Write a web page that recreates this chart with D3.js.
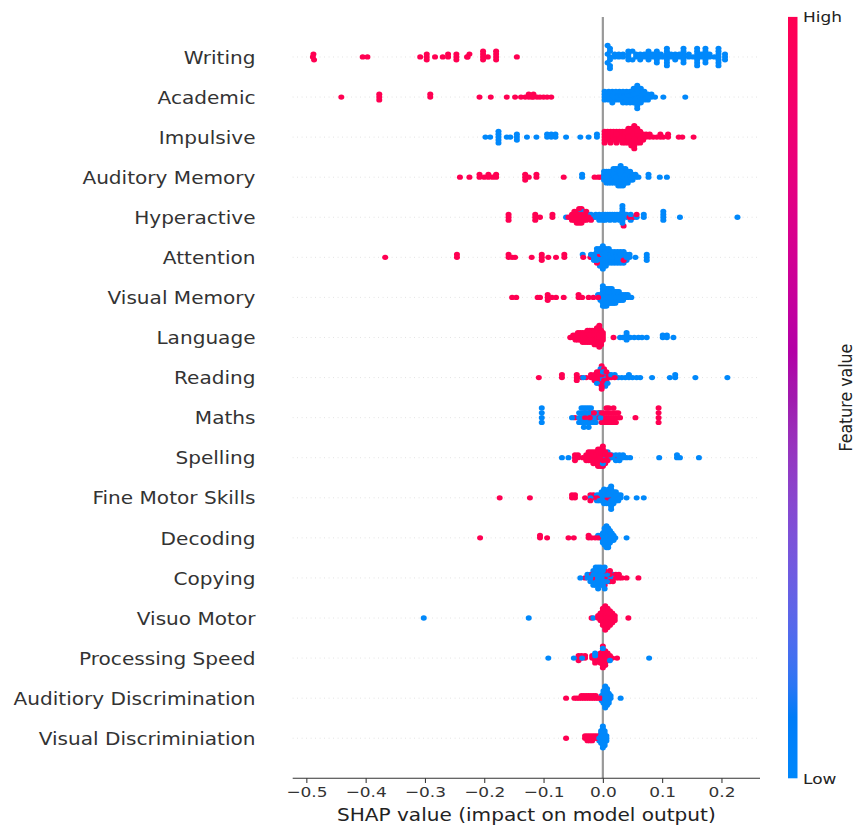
<!DOCTYPE html>
<html>
<head>
<meta charset="utf-8">
<script src="https://cdn.jsdelivr.net/npm/d3@7"></script>
<style>
  body { margin: 0; background: #fff; }
  text { font-family: "DejaVu Sans", sans-serif; }
</style>
</head>
<body>
<svg id="chart" width="863" height="827"></svg>
<script>
// Features, top (most important) to bottom
const features = [
  "Writing", "Academic", "Impulsive", "Auditory Memory", "Hyperactive", "Attention",
  "Visual Memory", "Language", "Reading", "Maths", "Spelling", "Fine Motor Skills",
  "Decoding", "Copying", "Visuo Motor", "Processing Speed", "Auditiory Discrimination",
  "Visual Discriminiation"
];

// SHAP values of samples with a high feature value (one list per feature)
const highShap = [
  [-0.489,-0.488,-0.487,-0.405,-0.397,-0.308,-0.297,-0.297,-0.297,-0.283,-0.270,-0.261,-0.261,-0.247,-0.247,-0.247,-0.229,-0.228,-0.225,-0.202,-0.202,-0.202,-0.202,-0.194,-0.180,-0.180,-0.180,-0.180,-0.145],
  [-0.441,-0.377,-0.377,-0.377,-0.291,-0.291,-0.208,-0.189,-0.162,-0.148,-0.138,-0.131,-0.125,-0.125,-0.120,-0.117,-0.117,-0.111,-0.106,-0.100,-0.094,-0.087],
  [0.003,0.003,0.003,0.003,0.003,0.008,0.008,0.008,0.008,0.013,0.013,0.013,0.013,0.013,0.018,0.018,0.018,0.018,0.023,0.023,0.023,0.023,0.023,0.028,0.028,0.028,0.028,0.033,0.033,0.033,0.033,0.033,0.038,0.038,0.038,0.038,0.038,0.043,0.043,0.043,0.043,0.043,0.043,0.048,0.048,0.048,0.048,0.048,0.048,0.048,0.053,0.053,0.053,0.053,0.053,0.053,0.053,0.053,0.053,0.058,0.058,0.058,0.058,0.058,0.058,0.063,0.063,0.063,0.063,0.063,0.068,0.068,0.068,0.073,0.073,0.079,0.079,0.085,0.091,0.097,0.097,0.102,0.110,0.110,0.128,0.134,0.153],
  [-0.241,-0.225,-0.208,-0.208,-0.200,-0.193,-0.193,-0.186,-0.180,-0.180,-0.131,-0.131,-0.131,-0.125,-0.112,-0.112,-0.066,-0.014,-0.008,-0.004],
  [-0.159,-0.159,-0.159,-0.114,-0.114,-0.114,-0.106,-0.085,-0.085,-0.058,-0.052,-0.052,-0.052,-0.048,-0.048,-0.048,-0.048,-0.044,-0.044,-0.044,-0.044,-0.044,-0.040,-0.040,-0.040,-0.040,-0.040,-0.040,-0.036,-0.036,-0.036,-0.036,-0.036,-0.032,-0.032,-0.032,-0.032,-0.028,-0.028,-0.028,-0.024,-0.024,-0.020,-0.020,-0.016,0.035,0.045,0.052,0.057],
  [-0.367,-0.246,-0.246,-0.159,-0.159,-0.153,-0.148,-0.120,-0.103,-0.103,-0.103,-0.092,-0.079,-0.065,-0.065,-0.033,-0.021,-0.010,-0.005,0.035],
  [-0.153,-0.146,-0.110,-0.106,-0.093,-0.093,-0.093,-0.086,-0.079,-0.066,-0.041,-0.041,-0.035,-0.024,-0.016,-0.008],
  [-0.055,-0.050,-0.050,-0.046,-0.046,-0.046,-0.042,-0.042,-0.042,-0.042,-0.038,-0.038,-0.038,-0.038,-0.034,-0.034,-0.034,-0.034,-0.034,-0.030,-0.030,-0.030,-0.030,-0.030,-0.026,-0.026,-0.026,-0.026,-0.026,-0.026,-0.022,-0.022,-0.022,-0.022,-0.022,-0.022,-0.018,-0.018,-0.018,-0.018,-0.018,-0.018,-0.014,-0.014,-0.014,-0.014,-0.014,-0.014,-0.014,-0.010,-0.010,-0.010,-0.010,-0.010,-0.010,-0.010,-0.010,-0.006,-0.006,-0.006,-0.006,-0.006,-0.006,-0.006,-0.006,-0.006,-0.006,-0.003,-0.003,-0.003,-0.003,-0.003,-0.003,-0.003,0.000,0.000,0.000,0.000,0.018],
  [-0.108,-0.069,-0.069,-0.044,-0.044,-0.044,-0.036,-0.028,-0.020,-0.020,-0.014,-0.014,-0.014,-0.010,-0.010,-0.010,-0.010,-0.006,-0.006,-0.006,-0.006,-0.006,-0.002,-0.002,-0.002,-0.002,-0.002,-0.002,0.002,0.002,0.002,0.002,0.002,0.006,0.006,0.006,0.010,0.010,0.014,0.020],
  [-0.047,-0.030,-0.030,-0.022,-0.022,-0.015,-0.015,-0.006,-0.006,-0.002,-0.002,-0.002,0.002,0.002,0.002,0.006,0.006,0.006,0.006,0.010,0.010,0.010,0.010,0.014,0.014,0.014,0.018,0.018,0.018,0.018,0.022,0.022,0.022,0.026,0.026,0.029,0.055,0.094,0.094,0.094,0.094],
  [-0.047,-0.047,-0.047,-0.042,-0.042,-0.034,-0.028,-0.028,-0.028,-0.024,-0.024,-0.024,-0.024,-0.020,-0.020,-0.020,-0.020,-0.016,-0.016,-0.016,-0.016,-0.016,-0.012,-0.012,-0.012,-0.012,-0.012,-0.008,-0.008,-0.008,-0.008,-0.008,-0.008,-0.004,-0.004,-0.004,-0.004,-0.004,-0.004,-0.004,0.000,0.000,0.000,0.000,0.000,0.000,0.004,0.004,0.004,0.004,0.004,0.008,0.008,0.008,0.012,0.012,0.026],
  [-0.174,-0.123,-0.052,-0.052,-0.047,-0.047,-0.030,-0.021,-0.021,-0.016,-0.016,-0.010,0.008],
  [-0.207,-0.106,-0.106,-0.094,-0.058,-0.049,-0.024,-0.024,-0.019,-0.013,-0.008],
  [-0.030,-0.018,-0.018,-0.010,-0.010,0.003,0.003,0.003,0.008,0.008,0.008,0.012,0.012,0.012,0.012,0.017,0.017,0.017,0.022,0.022,0.027,0.027,0.032,0.040,0.060],
  [-0.019,-0.008,-0.008,-0.004,-0.004,-0.004,-0.004,0.000,0.000,0.000,0.000,0.000,0.000,0.000,0.000,0.004,0.004,0.004,0.004,0.004,0.004,0.004,0.004,0.004,0.004,0.008,0.008,0.008,0.008,0.008,0.008,0.008,0.008,0.008,0.012,0.012,0.012,0.012,0.012,0.012,0.012,0.016,0.016,0.016,0.016,0.016,0.020,0.020,0.020,0.043],
  [-0.041,-0.041,-0.041,-0.036,-0.036,-0.030,-0.030,-0.018,-0.018,-0.013,-0.013,-0.013,-0.008,-0.008,-0.008,-0.004,-0.004,-0.004,-0.004,-0.004,0.000,0.000,0.000,0.000,0.000,0.000,0.000,0.000,0.000,0.004,0.004,0.004,0.004,0.004,0.004,0.004,0.008,0.008,0.008,0.008,0.012,0.012,0.016,0.024],
  [-0.062,-0.048,-0.044,-0.040,-0.036,-0.036,-0.032,-0.032,-0.028,-0.028,-0.024,-0.024,-0.020,-0.020,-0.016,-0.016,-0.012,-0.012,-0.008,-0.004],
  [-0.062,-0.030,-0.030,-0.026,-0.026,-0.026,-0.022,-0.022,-0.022,-0.018,-0.018,-0.018,-0.014,-0.014,-0.010,-0.010]
];

// SHAP values of samples with a low feature value (one list per feature)
const lowShap = [
  [0.008,0.008,0.008,0.012,0.012,0.012,0.012,0.012,0.012,0.020,0.020,0.027,0.027,0.034,0.034,0.043,0.043,0.043,0.043,0.050,0.050,0.056,0.056,0.063,0.063,0.063,0.070,0.070,0.077,0.077,0.077,0.077,0.084,0.084,0.091,0.091,0.091,0.091,0.091,0.098,0.098,0.103,0.108,0.108,0.108,0.108,0.108,0.108,0.108,0.115,0.115,0.122,0.122,0.122,0.129,0.129,0.136,0.136,0.136,0.136,0.136,0.136,0.145,0.145,0.152,0.159,0.159,0.159,0.159,0.159,0.159,0.159,0.166,0.166,0.173,0.173,0.173,0.173,0.173,0.173,0.180,0.180,0.188,0.195,0.195,0.195,0.195,0.195,0.195,0.195,0.206,0.206,0.206],
  [0.003,0.003,0.003,0.003,0.010,0.010,0.010,0.010,0.016,0.016,0.016,0.016,0.016,0.022,0.022,0.022,0.022,0.028,0.028,0.028,0.028,0.034,0.034,0.034,0.034,0.034,0.040,0.040,0.040,0.040,0.040,0.046,0.046,0.046,0.046,0.046,0.052,0.052,0.052,0.052,0.052,0.052,0.058,0.058,0.058,0.058,0.058,0.058,0.058,0.058,0.058,0.064,0.064,0.064,0.064,0.064,0.064,0.070,0.070,0.070,0.070,0.076,0.076,0.076,0.082,0.082,0.088,0.102,0.139],
  [-0.198,-0.190,-0.176,-0.176,-0.176,-0.176,-0.176,-0.162,-0.156,-0.145,-0.145,-0.145,-0.128,-0.112,-0.094,-0.094,-0.087,-0.087,-0.080,-0.080,-0.062,-0.038,-0.024,-0.010,-0.010],
  [-0.035,-0.035,0.002,0.002,0.002,0.002,0.006,0.006,0.006,0.006,0.006,0.010,0.010,0.010,0.010,0.010,0.014,0.014,0.014,0.014,0.014,0.018,0.018,0.018,0.018,0.018,0.018,0.022,0.022,0.022,0.022,0.022,0.022,0.026,0.026,0.026,0.026,0.026,0.026,0.026,0.030,0.030,0.030,0.030,0.030,0.030,0.030,0.030,0.034,0.034,0.034,0.034,0.034,0.034,0.034,0.038,0.038,0.038,0.038,0.038,0.038,0.042,0.042,0.042,0.042,0.042,0.046,0.046,0.046,0.046,0.050,0.050,0.050,0.055,0.055,0.060,0.077,0.077,0.096,0.108],
  [-0.062,-0.036,-0.028,-0.020,-0.012,-0.012,-0.006,-0.006,-0.006,0.000,0.000,0.000,0.004,0.004,0.004,0.008,0.008,0.012,0.012,0.012,0.016,0.016,0.020,0.020,0.020,0.024,0.024,0.028,0.028,0.028,0.033,0.033,0.033,0.033,0.033,0.033,0.033,0.040,0.040,0.047,0.047,0.057,0.069,0.069,0.102,0.102,0.102,0.102,0.130,0.227],
  [-0.034,-0.020,-0.020,-0.015,-0.015,-0.015,-0.010,-0.010,-0.010,-0.010,-0.010,-0.005,-0.005,-0.005,-0.005,-0.005,-0.005,0.000,0.000,0.000,0.000,0.000,0.000,0.000,0.000,0.000,0.005,0.005,0.005,0.005,0.005,0.005,0.005,0.010,0.010,0.010,0.010,0.010,0.010,0.015,0.015,0.015,0.015,0.015,0.020,0.020,0.020,0.020,0.020,0.025,0.025,0.025,0.025,0.025,0.030,0.030,0.030,0.030,0.030,0.035,0.035,0.035,0.035,0.040,0.040,0.040,0.045,0.045,0.055,0.074,0.074,0.074],
  [-0.008,-0.004,-0.004,-0.004,0.000,0.000,0.000,0.000,0.000,0.000,0.000,0.000,0.003,0.003,0.003,0.003,0.003,0.003,0.003,0.006,0.006,0.006,0.006,0.006,0.006,0.006,0.009,0.009,0.009,0.009,0.009,0.009,0.012,0.012,0.012,0.012,0.012,0.012,0.015,0.015,0.015,0.015,0.015,0.015,0.018,0.018,0.018,0.018,0.018,0.021,0.021,0.021,0.021,0.021,0.024,0.024,0.024,0.024,0.027,0.027,0.027,0.027,0.030,0.030,0.030,0.034,0.034,0.034,0.038,0.038,0.042,0.042,0.048],
  [0.029,0.034,0.040,0.040,0.040,0.040,0.046,0.053,0.060,0.066,0.074,0.101,0.101,0.108,0.108,0.119],
  [-0.033,-0.010,-0.004,-0.004,-0.004,0.000,0.000,0.000,0.000,0.004,0.004,0.008,0.008,0.014,0.020,0.026,0.032,0.038,0.044,0.044,0.050,0.057,0.063,0.083,0.113,0.122,0.122,0.156,0.210],
  [-0.103,-0.103,-0.103,-0.103,-0.052,-0.040,-0.040,-0.040,-0.036,-0.036,-0.036,-0.036,-0.032,-0.032,-0.032,-0.032,-0.032,-0.028,-0.028,-0.028,-0.028,-0.024,-0.024,-0.024,-0.024,-0.024,-0.020,-0.020,-0.020,-0.020,-0.016,-0.016,-0.016,-0.012,-0.012,-0.012,-0.008,-0.008,-0.004,-0.004],
  [-0.069,-0.058,-0.010,0.000,0.000,0.008,0.015,0.015,0.022,0.022,0.022,0.028,0.028,0.028,0.034,0.034,0.040,0.046,0.095,0.125,0.125,0.130,0.162],
  [-0.021,-0.010,-0.010,-0.006,-0.006,-0.006,-0.002,-0.002,-0.002,-0.002,0.002,0.002,0.002,0.002,0.002,0.002,0.006,0.006,0.006,0.006,0.006,0.010,0.010,0.010,0.010,0.010,0.010,0.014,0.014,0.014,0.014,0.014,0.014,0.014,0.014,0.014,0.018,0.018,0.018,0.018,0.018,0.022,0.022,0.022,0.022,0.026,0.026,0.026,0.030,0.030,0.040,0.057,0.069],
  [-0.008,-0.004,-0.004,0.000,0.000,0.000,0.000,0.000,0.003,0.003,0.003,0.003,0.003,0.003,0.003,0.003,0.006,0.006,0.006,0.006,0.006,0.006,0.006,0.006,0.006,0.006,0.009,0.009,0.009,0.009,0.009,0.009,0.009,0.009,0.009,0.012,0.012,0.012,0.012,0.012,0.012,0.015,0.015,0.015,0.015,0.018,0.018,0.018,0.021,0.040],
  [-0.038,-0.026,-0.026,-0.021,-0.021,-0.021,-0.016,-0.016,-0.016,-0.016,-0.016,-0.012,-0.012,-0.012,-0.012,-0.012,-0.012,-0.008,-0.008,-0.008,-0.008,-0.008,-0.008,-0.008,-0.004,-0.004,-0.004,-0.004,-0.004,-0.004,-0.002,0.000,0.000,0.000,0.000,0.000,0.003,0.003,0.003,0.003,0.007,0.007,0.007,0.016,0.016],
  [-0.302,-0.125,-0.016,0.004],
  [-0.092,-0.049,-0.035,-0.013,-0.013,0.000,0.012,0.078],
  [-0.002,-0.002,-0.002,0.001,0.001,0.001,0.001,0.001,0.001,0.004,0.004,0.004,0.004,0.004,0.004,0.004,0.004,0.004,0.004,0.007,0.007,0.007,0.007,0.007,0.007,0.007,0.007,0.010,0.010,0.010,0.010,0.010,0.013,0.013,0.030],
  [-0.006,-0.006,-0.006,-0.003,-0.003,-0.003,-0.003,-0.003,-0.003,0.000,0.000,0.000,0.000,0.000,0.000,0.000,0.000,0.000,0.000,0.003,0.003,0.003,0.003,0.003,0.003,0.003,0.006,0.006,0.006]
];

const xTicks = [-0.5, -0.4, -0.3, -0.2, -0.1, 0.0, 0.1, 0.2];
const xTitle = "SHAP value (impact on model output)";
const colorbarTicks = ["Low", "High"];
const colorbarTitle = "Feature value";

// ---------------------------------------------------------------------------
const svg = d3.select("#chart");
const plot = { left: 292.7, right: 760, top: 16.9, bottom: 778.3 };
const stretchX = 1.17;            // text is drawn slightly wider than tall
const n = features.length;

const x = d3.scaleLinear().domain([-0.523, 0.265]).range([plot.left, plot.right]);
const y = d3.scaleLinear().domain([-1, n]).range([plot.bottom, plot.top]);
const rowPos = i => n - 1 - i;   // first feature sits at the top

// red-blue colormap interpolated in LCH (blue -> purple -> red)
function redBlue(t) {
  const L = t < 0.5 ? 54 + (40 - 54) * (t / 0.5) : 40 + (54 - 40) * ((t - 0.5) / 0.5);
  const C = 70 + (90 - 70) * t;
  const h = 4.6588 + t * ((0.35470565 + 2 * Math.PI) - 4.6588);
  return d3.hcl(h * 180 / Math.PI, C, L).formatHex();
}

// vertical beeswarm offsets (in row units) for one feature
function swarmOffsets(vals) {
  const N = vals.length, mn = d3.min(vals), mx = d3.max(vals);
  const quant = vals.map(v => Math.round(100 * (v - mn) / (mx - mn + 1e-8)));
  const mix = i => (i * 37) % N;
  const order = d3.range(N).sort((a, b) => quant[a] - quant[b] || mix(a) - mix(b));
  const ys = new Array(N).fill(0);
  let layer = 0, last = -1;
  for (const i of order) {
    if (quant[i] !== last) layer = 0;
    ys[i] = Math.ceil(layer / 2) * ((layer % 2) * 2 - 1);
    layer++;
    last = quant[i];
  }
  const m = d3.max(ys, v => v + 1);
  return ys.map(v => v * 0.9 * (0.4 / m));
}

// dotted row guides
svg.append("g").selectAll("line").data(features).join("line")
  .attr("x1", plot.left).attr("x2", plot.right)
  .attr("y1", (d, i) => y(rowPos(i))).attr("y2", (d, i) => y(rowPos(i)))
  .attr("stroke", "#cccccc").attr("stroke-width", 0.7)
  .attr("stroke-dasharray", "0.75 3.75");

// zero line
svg.append("line")
  .attr("x1", x(0)).attr("x2", x(0))
  .attr("y1", plot.top).attr("y2", plot.bottom)
  .attr("stroke", "#999999").attr("stroke-width", 2.2);

// points
const dots = svg.append("g");
features.forEach((f, i) => {
  const pts = highShap[i].map(v => ({ v, c: 1 })).concat(lowShap[i].map(v => ({ v, c: 0 })));
  const off = swarmOffsets(pts.map(p => p.v));
  pts.forEach((p, k) => { p.dy = off[k]; p.k = k; });
  const N = pts.length;
  const drawOrder = pts.slice().sort((a, b) => ((a.k * 53) % N) - ((b.k * 53) % N));
  dots.append("g").selectAll("ellipse").data(drawOrder).join("ellipse")
    .attr("cx", p => x(p.v))
    .attr("cy", p => y(rowPos(i) + p.dy))
    .attr("rx", 3.0).attr("ry", 2.65)
    .attr("fill", p => redBlue(p.c));
});

// feature labels
svg.append("g").selectAll("text").data(features).join("text")
  .attr("transform", (d, i) => `translate(255.5,${y(rowPos(i))}) scale(${stretchX},1)`)
  .attr("dy", "0.39em")
  .attr("text-anchor", "end")
  .attr("font-size", 17.17)
  .attr("fill", "#333333")
  .text(d => d);

// x axis
const xAxis = svg.append("g")
  .attr("transform", `translate(0,${plot.bottom})`)
  .call(d3.axisBottom(x).tickValues(xTicks).tickSize(4.6).tickPadding(3.8)
    .tickFormat(d3.format(".1f")));
xAxis.select(".domain").remove();
xAxis.selectAll(".tick line").attr("stroke", "#333333").attr("stroke-width", 1.05);
xAxis.selectAll(".tick text")
  .attr("font-size", 14.5)
  .attr("font-family", "DejaVu Sans")
  .attr("fill", "#333333")
  .attr("transform", `scale(${stretchX},1)`);
xAxis.append("line")
  .attr("x1", plot.left).attr("x2", plot.right)
  .attr("y1", 0).attr("y2", 0)
  .attr("stroke", "#333333").attr("stroke-width", 1.05);

svg.append("text")
  .attr("transform", `translate(${(plot.left + plot.right) / 2},820.5) scale(${stretchX},1)`)
  .attr("text-anchor", "middle")
  .attr("font-size", 17.17)
  .attr("fill", "#222222")
  .text(xTitle);

// colorbar
const cb = { x: 788, w: 9.5, top: plot.top, bottom: plot.bottom };
const grad = svg.append("defs").append("linearGradient")
  .attr("id", "cbGrad").attr("x1", 0).attr("y1", 1).attr("x2", 0).attr("y2", 0);
grad.selectAll("stop").data(d3.range(0, 1.0001, 0.02)).join("stop")
  .attr("offset", t => t).attr("stop-color", t => redBlue(t));
svg.append("rect")
  .attr("x", cb.x).attr("y", cb.top).attr("width", cb.w).attr("height", cb.bottom - cb.top)
  .attr("fill", "url(#cbGrad)");

const cbScale = d3.scaleLinear().domain([0, 1]).range([cb.bottom, cb.top]);
svg.append("g").selectAll("text").data(colorbarTicks).join("text")
  .attr("transform", (d, i) => `translate(${cb.x + cb.w + 5.5},${cbScale(i)}) scale(${stretchX},1)`)
  .attr("dy", "0.36em")
  .attr("font-size", 14.5)
  .attr("fill", "#222222")
  .text(d => d);

svg.append("text")
  .attr("transform", `translate(852,${(cb.top + cb.bottom) / 2}) rotate(-90) scale(${1 / stretchX},1)`)
  .attr("text-anchor", "middle")
  .attr("font-size", 18.5)
  .attr("fill", "#222222")
  .text(colorbarTitle);
</script>
</body>
</html>
